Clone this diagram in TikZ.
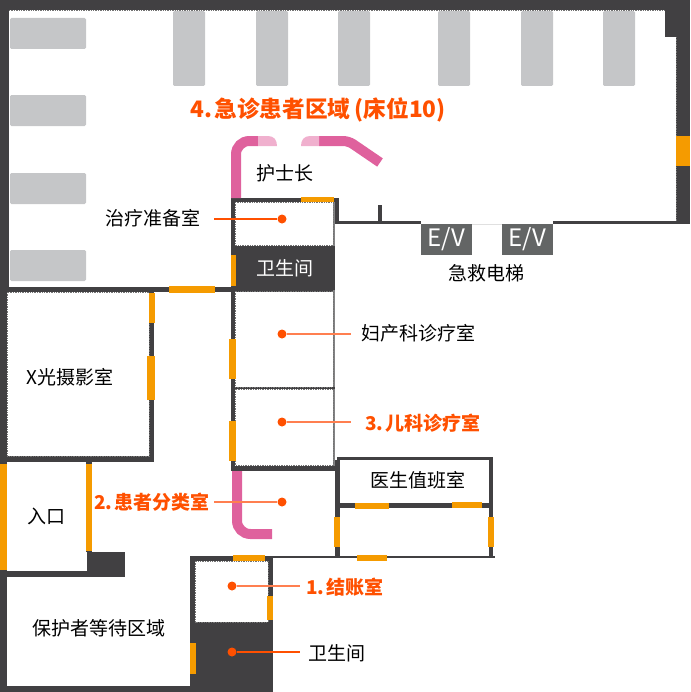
\documentclass[tikz,border=0pt]{standalone}
\usepackage{fontspec}
\setmainfont{Noto Sans CJK SC}
\definecolor{wallc}{HTML}{414042}
\definecolor{doorc}{HTML}{F59B00}
\definecolor{bedc}{HTML}{C5C6C8}
\definecolor{pinkc}{HTML}{DF619D}
\definecolor{palec}{HTML}{F0B0CE}
\definecolor{markc}{HTML}{FF5000}
\definecolor{leadc}{HTML}{FF7F50}
\definecolor{liftc}{HTML}{636565}
\tikzset{
    wall/.style={fill=wallc,draw=none},
    thinwall/.style={fill=wallc!65,draw=none},
    door/.style={fill=doorc,draw=none},
    bed/.style={fill=bedc,draw=none,rounded corners=1pt},
    rail/.style={draw=pinkc,line width=7.5pt,rounded corners=10pt},
    trim/.style={draw=black!55,line width=0.4pt,dash pattern=on 1pt off 0.8pt},
    dot/.style={circle,fill=markc,draw=none,inner sep=0pt,minimum size=9pt*0.75},
    lead/.style={draw=leadc,line width=1.1pt},
    room/.style={text=black,inner sep=0pt,font=\fontsize{14.25}{16}\selectfont},
    area/.style={text=markc,inner sep=0pt,font=\fontsize{14.25}{16}\selectfont\bfseries},
    lift/.style={fill=liftc,text=white,inner sep=0pt,minimum width=38.25pt,minimum height=23.25pt,font=\fontsize{18}{20}\selectfont}
}
\begin{document}
\begin{tikzpicture}[x=0.75pt,y=-0.75pt]
    \useasboundingbox (0,0) rectangle (690,692);
    %% beds
    \foreach \y in {18,95,173,250}
        \path[bed] (10,\y) rectangle (86,\y+31);
    \foreach \x in {173,256,338,438,521,603}
        \path[bed] (\x,11) rectangle (\x+32,86);
    %% outer walls
    \path[wall] (0,0) rectangle (690,10);
    \path[wall] (0,0) rectangle (9,290);
    \path[wall] (665,0) rectangle (690,37);
    \path[wall] (676,0) rectangle (690,224);
    \path[wall] (0,287) rectangle (335,292);
    \path[wall] (0,290) rectangle (7,692);
    \path[wall] (0,686) rectangle (273,692);
    \path[wall] (339,221) rectangle (421,224);
    \path[wall] (553,221) rectangle (690,224);
    \path[wall] (378,205) rectangle (382,222);
    \path[fill=black!12] (472,223.5) rectangle (502,224.5);
    %% x-ray room and entrance
    \path[wall] (149,292) rectangle (154,462);
    \path[wall] (0,456) rectangle (154,462);
    \path[wall] (86,462) rectangle (92,552);
    \path[wall] (87,552) rectangle (125,577);
    \path[wall] (0,571) rectangle (125,577);
    %% middle rooms
    \path[wall] (231,198) rectangle (336,202);
    \path[wall] (335,198) rectangle (339,224);
    \path[wall] (231,198) rectangle (235,290);
    \path[thinwall] (333,202) rectangle (335,246);
    \path[wall] (231,246) rectangle (335,290);
    \path[wall] (231,290) rectangle (235,471);
    \path[thinwall] (333,290) rectangle (335,466);
    \path[wall] (235,387) rectangle (335,389);
    \path[wall] (231,466) rectangle (336,471);
    %% duty room
    \path[wall] (335,460) rectangle (340,557);
    \path[wall] (337,457) rectangle (493,460);
    \path[wall] (489,457) rectangle (493,557);
    \path[wall] (337,503) rectangle (493,508);
    \path[wall] (273,556) rectangle (495,558);
    %% cashier and lower washroom
    \path[wall] (190,556) rectangle (273,692);
    \path[fill=white] (195,561) rectangle (268,622);
    %% room trims
    \path[trim] (9,10.5) -- (665,10.5);
    \path[trim] (676,37) -- (676,221);
    \foreach \xa/\ya/\xb/\yb in {7/292/149/456,235/202/333/245,235/291/333/387,235/389/333/465,195/561/268/622}
        \path[trim] (\xa,\ya) rectangle (\xb,\yb);
    %% doors
    \foreach \xa/\ya/\xb/\yb in {676/136/690/166,301/197/334/202,231/255/236/286,
        169/286/215/293,149/293/155/323,147/356/155/400,229/339/236/379,229/421/236/461,
        0/464/7/570,86/464/92/551,334/517/340/547,488/517/494/547,355/503/389/509,
        452/502/482/508,357/555/387/561,233/555/265/561,267/596/273/620,190/643/196/674}
        \path[door] (\xa,\ya) rectangle (\xb,\yb);
    %% nurse station and triage rails
    \draw[rail] (236,198) -- (236,141) -- (258,141);
    \draw[rail,rounded corners=4pt] (319,141) -- (348.5,141) -- (380,162.5);
    \draw[rail] (237,471) -- (237,534) -- (272,534);
    \path[fill=palec] (258,136) -- (268,136) .. controls (274,136) and (277,140) .. (277,146) -- (258,146) -- cycle;
    \path[fill=palec] (319,136) -- (310,136) .. controls (304,136) and (301,140) .. (301,146) -- (319,146) -- cycle;
    %% lifts
    \node[lift] (liftA) at (446.5,239.5) {E/V};
    \node[lift] (liftB) at (527.5,239.5) {E/V};
    \node[room] (liftname) at (486,273) {急救电梯};
    %% room names
    \node[area,font=\fontsize{17}{20}\selectfont\bfseries] (emerg) at (318,110) {4.\hspace{2pt}急诊患者区域\hspace{3pt}(床位10)};
    \node[room] (nurse) at (285,173) {护士长};
    \node[room,text=white] (wash) at (285,268) {卫生间};
    \node[room] (xray) at (70,377) {X光摄影室};
    \node[room] (entry) at (46,516) {入口};
    \node[room] (wait) at (99,628) {保护者等待区域};
    \node[room] (duty) at (418,480) {医生值班室};
    %% marked rooms
    \node[dot] (dotprep) at (282,219) {};
    \node[dot] (dotgyn) at (282,334) {};
    \node[dot] (dotped) at (282,422) {};
    \node[dot] (dottri) at (282,502) {};
    \node[dot] (dotpay) at (232,586) {};
    \node[dot] (dotwash) at (232,652) {};
    \node[room,anchor=east,outer sep=10.5pt] (prep) at (214,218) {治疗准备室};
    \node[room,anchor=west,outer sep=7.5pt] (gyn) at (351,333) {妇产科诊疗室};
    \node[area,anchor=west,outer sep=10.5pt] (ped) at (351,423) {3.\hspace{2pt}儿科诊疗室};
    \node[area,anchor=east,outer sep=3pt] (tri) at (214,502) {2.\hspace{2pt}患者分类室};
    \node[area,anchor=west,outer sep=4.5pt] (pay) at (300,587) {1.\hspace{2pt}结账室};
    \node[room,anchor=west,outer sep=6pt] (washB) at (300,653) {卫生间};
    %% leaders
    \draw[lead,draw=markc,line width=0.8pt] (dotprep) -- (prep.east |- dotprep);
    \draw[lead] (dotgyn) -- (gyn.west |- dotgyn);
    \draw[lead] (dotped) -- (ped.west |- dotped);
    \draw[lead] (dottri) -- (tri.east |- dottri);
    \draw[lead] (dotpay) -- (pay.west |- dotpay);
    \draw[lead,draw=markc,line width=0.8pt] (dotwash) -- (washB.west |- dotwash);
\end{tikzpicture}
\end{document}
